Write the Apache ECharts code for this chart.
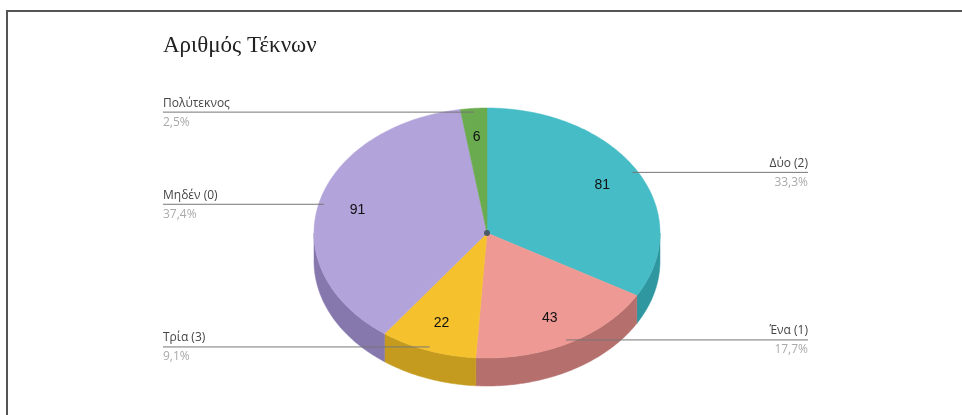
<!DOCTYPE html>
<html>
<head>
<meta charset="utf-8">
<script src="https://cdn.jsdelivr.net/npm/echarts@6/dist/echarts.min.js"></script>
<style>html,body{margin:0;padding:0;background:#fff;}#c{width:962px;height:415px;}</style>
</head>
<body>
<div id="c"></div>
<script>
const titleText = 'Αριθμός Τέκνων';
const categories = ['Δύο (2)', 'Ένα (1)', 'Τρία (3)', 'Μηδέν (0)', 'Πολύτεκνος'];
const values = [81, 43, 22, 91, 6];
const topColors = ['#46bcc6', '#ee9993', '#f5c12d', '#b3a3db', '#6aab4f'];
const sideColors = ['#2f979f', '#b56f6c', '#c49b1e', '#8677ad', '#4f8a3a'];

const total = values.reduce((a, b) => a + b, 0);
const starts = [];
values.reduce((acc, v, i) => { starts[i] = acc; return acc + v; }, 0);

const CX = 487, CY = 233, RX = 173, RY = 125, DEPTH = 28;
const LEFT_X = 163, RIGHT_X = 808;

function pt(deg, f, dy) {
  const r = deg * Math.PI / 180;
  return [CX + RX * f * Math.sin(r), CY - RY * f * Math.cos(r) + (dy || 0)];
}
function arc(a, b, dy) {
  const out = [];
  const n = Math.max(2, Math.ceil(Math.abs(b - a) / 1));
  for (let k = 0; k <= n; k++) out.push(pt(a + (b - a) * k / n, 1, dy));
  return out;
}
function pctText(v) {
  return (v / total * 100).toFixed(1).replace('.', ',') + '%';
}

function renderItem(params, api) {
  const i = params.dataIndex;
  const v = api.value(0);
  const a = starts[i] / total * 360;
  const b = a + v / total * 360;
  const mid = (a + b) / 2;
  const children = [];
  const sa = Math.max(a, 90), sb = Math.min(b, 270);
  if (sb > sa) {
    const topArc = arc(sa, sb, 0);
    const botArc = arc(sb, sa, DEPTH);
    children.push({
      type: 'polygon', z2: 1,
      shape: { points: topArc.concat(botArc) },
      style: { fill: sideColors[i], stroke: sideColors[i], lineWidth: 0.5 }
    });
  }
  children.push({
    type: 'polygon', z2: 2,
    shape: { points: [[CX, CY]].concat(arc(a, b, 0)) },
    style: { fill: topColors[i], stroke: topColors[i], lineWidth: 0.5 }
  });
  const vp = pt(mid, 0.77, 0);
  children.push({
    type: 'text', z2: 5,
    style: { text: String(v), x: vp[0], y: vp[1], textAlign: 'center', textVerticalAlign: 'middle',
      font: '14px "Liberation Sans", Arial, sans-serif', fill: '#111' }
  });
  const ap = pt(mid, 0.97, 0);
  const right = Math.sin(mid * Math.PI / 180) > 0;
  const lx = right ? RIGHT_X : LEFT_X;
  children.push({
    type: 'line', z2: 6,
    shape: { x1: ap[0], y1: ap[1], x2: lx, y2: ap[1] },
    style: { stroke: '#777', lineWidth: 1 }
  });
  children.push({
    type: 'text', z2: 6,
    style: { text: categories[i], x: lx, y: ap[1] - 9, textAlign: right ? 'right' : 'left', textVerticalAlign: 'middle',
      font: '12px "Open Sans", "Liberation Sans", Arial, sans-serif', fill: '#444' }
  });
  children.push({
    type: 'text', z2: 6,
    style: { text: pctText(v), x: lx, y: ap[1] + 10, textAlign: right ? 'right' : 'left', textVerticalAlign: 'middle',
      font: '12px "Open Sans", "Liberation Sans", Arial, sans-serif', fill: '#aaa' }
  });
  return { type: 'group', children: children };
}

const chart = echarts.init(document.getElementById('c'), null, { renderer: 'canvas' });
chart.setOption({
  backgroundColor: '#fff',
  animation: false,
  title: {
    text: titleText, left: 158, top: 29,
    textStyle: { fontFamily: '"Liberation Serif", "DejaVu Serif", serif', fontSize: 23, fontWeight: 'normal', color: '#222' }
  },
  graphic: [
    { type: 'polyline', shape: { points: [[7, 420], [7, 11], [970, 11]] }, style: { stroke: '#555', lineWidth: 2, fill: null } },
    { type: 'circle', z: 100, shape: { cx: CX, cy: CY, r: 3 }, style: { fill: '#4a5a66' } }
  ],
  series: [{
    type: 'custom',
    coordinateSystem: 'none',
    renderItem: renderItem,
    data: values.map(v => [v])
  }]
});
</script>
</body>
</html>
